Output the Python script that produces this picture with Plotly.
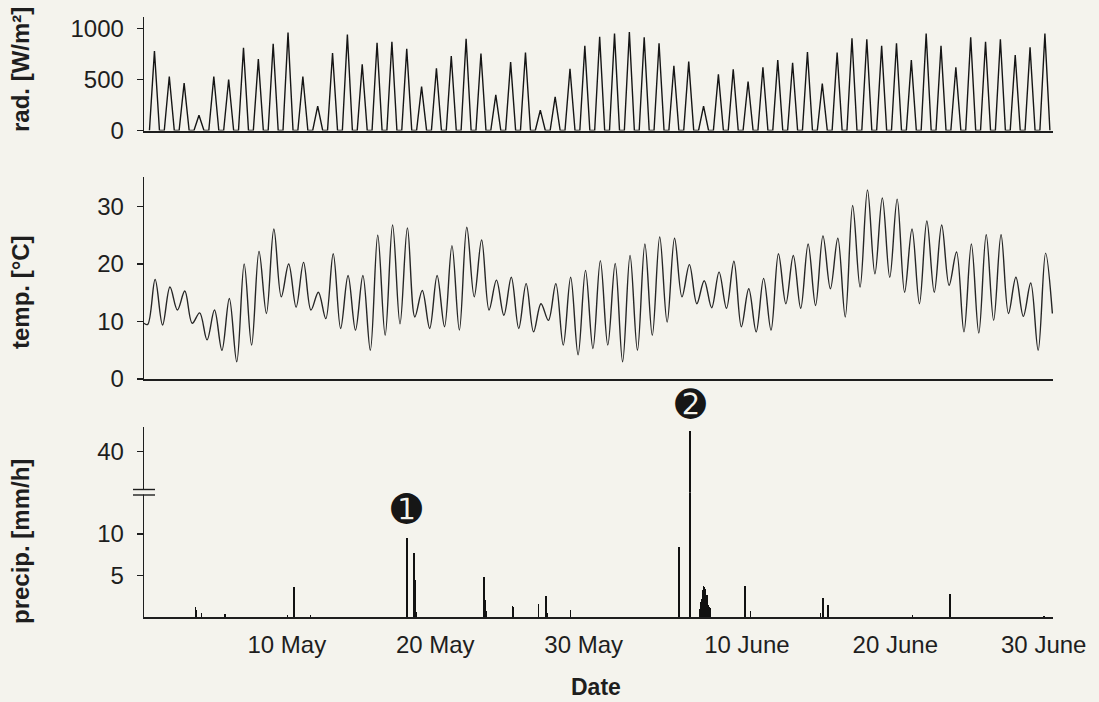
import pandas as pd
import plotly.graph_objects as go

W, H = 1099, 702
BG = "#f4f3ed"
INK = "#1e1e1e"
FONT = "Liberation Sans, Arial, sans-serif"

# ---------------- data ----------------
FIRST_DAY = "2013-05-01"
N_DAYS = 61

# daily peak global radiation [W/m2], 1 May ... 30 June
RAD_PEAK = [780, 530, 465, 150, 530, 500, 810, 700, 850, 960,
            530, 240, 760, 940, 650, 860, 870, 800, 430, 610,
            730, 900, 755, 350, 670, 765, 200, 330, 605, 830,
            920, 950, 965, 915, 855, 635, 675, 240, 550, 600,
            480, 620, 690, 665, 770, 460, 765, 905, 895, 830,
            855, 690, 950, 830, 620, 915, 870, 895, 740, 815, 950]
RAD_RISE_H, RAD_PEAK_H, RAD_SET_H = 5.8, 13.9, 22.0   # hours of day

# daily temperature minimum (night) and maximum (afternoon) [deg C]
TEMP_MIN = [9.5, 9.4, 12.0, 9.7, 6.8, 5.0, 3.0, 5.9, 11.4, 14.3,
            12.5, 12.0, 10.5, 8.8, 8.5, 5.0, 7.6, 9.6, 10.8, 8.8,
            9.1, 8.5, 14.3, 12.0, 11.1, 8.8, 8.2, 10.2, 5.9, 4.2,
            5.3, 5.9, 3.0, 5.0, 7.6, 9.9, 14.3, 13.1, 12.4, 12.3,
            9.1, 8.2, 8.5, 13.1, 12.3, 12.8, 15.7, 10.8, 16.0, 18.3,
            17.7, 15.1, 13.1, 15.1, 16.3, 8.2, 8.0, 10.2, 11.4, 10.9, 5.0]
TEMP_MAX = [17.3, 16.0, 15.3, 11.5, 12.0, 14.0, 20.0, 22.2, 26.1, 20.0,
            20.3, 15.1, 21.8, 18.0, 18.0, 25.0, 26.8, 26.3, 15.4, 18.0,
            23.2, 26.4, 24.2, 17.2, 17.7, 16.6, 13.1, 16.6, 17.7, 18.9,
            20.6, 20.1, 21.5, 23.5, 24.7, 24.5, 19.9, 17.1, 18.6, 20.5,
            15.7, 17.5, 21.8, 21.5, 23.5, 24.9, 24.5, 30.2, 32.9, 31.5,
            31.3, 26.1, 27.5, 26.8, 22.1, 23.5, 25.1, 25.1, 17.7, 16.7, 21.9]
TEMP_MIN_H, TEMP_MAX_H = 3.0, 15.0
TEMP_START = ("2013-04-30 21:00", 9.7)
TEMP_END = ("2013-07-01 02:00", 11.4)

# hourly precipitation [mm/h]
PRECIP_TIME = [
    "2013-05-04 08:00", "2013-05-04 09:00", "2013-05-04 18:00", "2013-05-06 08:00",
    "2013-05-10 13:00", "2013-05-11 00:00", "2013-05-12 02:00",
    "2013-05-18 14:00",
    "2013-05-19 02:00", "2013-05-19 03:00", "2013-05-19 04:00", "2013-05-19 05:00",
    "2013-05-23 19:00", "2013-05-23 20:00", "2013-05-23 21:00", "2013-05-23 23:00",
    "2013-05-25 17:00", "2013-05-25 18:00", "2013-05-27 11:00",
    "2013-05-27 23:00", "2013-05-28 00:00", "2013-05-28 01:00", "2013-05-29 15:00",
    "2013-06-05 22:00",
    "2013-06-06 15:00", "2013-06-06 16:00", "2013-06-06 17:00",
    "2013-06-07 08:00", "2013-06-07 09:00", "2013-06-07 10:00", "2013-06-07 11:00",
    "2013-06-07 12:00", "2013-06-07 13:00", "2013-06-07 14:00", "2013-06-07 15:00",
    "2013-06-07 16:00", "2013-06-07 17:00", "2013-06-07 18:00", "2013-06-07 19:00",
    "2013-06-07 20:00", "2013-06-07 21:00", "2013-06-07 22:00", "2013-06-07 23:00",
    "2013-06-08 00:00",
    "2013-06-10 09:00", "2013-06-10 18:00",
    "2013-06-15 11:00", "2013-06-15 15:00", "2013-06-15 23:00",
    "2013-06-21 16:00", "2013-06-24 04:00", "2013-06-30 12:00"]
PRECIP_VAL = [
    1.2, 0.8, 0.5, 0.4,
    0.3, 3.6, 0.2,
    9.5,
    7.7, 4.4, 1.5, 0.6,
    4.8, 2.0, 1.6, 0.7,
    1.3, 1.2, 1.6,
    2.5, 1.0, 0.5, 0.8,
    8.4,
    9.8, 42.5, 7.8,
    1.0, 1.7, 1.8, 2.2,
    2.6, 3.2, 3.7, 3.6,
    3.4, 3.1, 2.7, 2.6,
    2.5, 1.4, 1.3, 1.2,
    1.1,
    3.7, 0.7,
    0.5, 2.3, 1.4,
    0.2, 2.8, 0.15]
EVENT_TIME = ["2013-05-18 14:00", "2013-06-06 16:00"]   # marked events
EVENT_LABEL = ["\u278A", "\u278B"]
EVENT_LABEL_PX = [509, 405]   # vertical pixel position of the markers

TICK_DATES = ["2013-05-10", "2013-05-20", "2013-05-30",
              "2013-06-10", "2013-06-20", "2013-06-30"]
TICK_TEXT = ["10 May", "20 May", "30 May", "10 June", "20 June", "30 June"]

# ---------------- build series ----------------
days = pd.date_range(FIRST_DAY, periods=N_DAYS, freq="D")
hr = pd.Timedelta(hours=1)

rad_x, rad_y = [], []
for d, p in zip(days, RAD_PEAK):
    rad_x += [d + RAD_RISE_H * hr, d + RAD_PEAK_H * hr, d + RAD_SET_H * hr]
    rad_y += [0, p, 0]

temp_x = [pd.Timestamp(TEMP_START[0])]
temp_y = [TEMP_START[1]]
for d, lo, hi in zip(days, TEMP_MIN, TEMP_MAX):
    temp_x += [d + TEMP_MIN_H * hr, d + TEMP_MAX_H * hr]
    temp_y += [lo, hi]
temp_x.append(pd.Timestamp(TEMP_END[0]))
temp_y.append(TEMP_END[1])

ptime = pd.to_datetime(PRECIP_TIME)
tickvals = [pd.Timestamp(t) + 12 * hr for t in TICK_DATES]

# ---------------- layout helpers ----------------
def px_x(px):
    return px / W

def px_y(px):
    return 1 - px / H

XDOM = [px_x(144), px_x(1053)]
XRANGE = ["2013-04-30 21:00", "2013-07-01 03:00"]

fig = go.Figure()
fig.add_trace(go.Scatter(x=rad_x, y=rad_y, mode="lines",
                         line=dict(color="#151515", width=1.4),
                         xaxis="x", yaxis="y", hoverinfo="skip"))
fig.add_trace(go.Scatter(x=temp_x, y=temp_y, mode="lines",
                         line=dict(color="#262626", width=1.4, shape="spline", smoothing=1.0),
                         xaxis="x2", yaxis="y2", hoverinfo="skip"))
bar_w = 2.6 * 3600 * 1000
fig.add_trace(go.Bar(x=ptime, y=PRECIP_VAL, width=bar_w,
                     marker=dict(color="#111111", line=dict(width=0)),
                     xaxis="x3", yaxis="y3", hoverinfo="skip"))
fig.add_trace(go.Bar(x=ptime, y=PRECIP_VAL, width=bar_w,
                     marker=dict(color="#111111", line=dict(width=0)),
                     xaxis="x4", yaxis="y4", hoverinfo="skip"))

tickfont = dict(family=FONT, size=24, color=INK)
common_x = dict(domain=XDOM, range=XRANGE, type="date", showgrid=False, zeroline=False,
                ticks="", showticklabels=False, showline=True, linecolor=INK,
                linewidth=2, fixedrange=True, automargin=False)
common_y = dict(showgrid=False, zeroline=False, showline=True, linecolor=INK, linewidth=1.3,
                ticks="outside", ticklen=6, tickwidth=1.2, tickcolor=INK,
                tickfont=tickfont, automargin=False, ticklabelstandoff=8,
                fixedrange=True)

fig.update_layout(
    width=W, height=H,
    margin=dict(l=0, r=0, t=0, b=0),
    paper_bgcolor=BG, plot_bgcolor=BG,
    showlegend=False, barmode="overlay", bargap=0,
    font=dict(family=FONT, color=INK),
    xaxis=dict(anchor="y", **common_x),
    yaxis=dict(anchor="x", domain=[px_y(130.5), px_y(17.3)], range=[0, 1110],
               tickvals=[0, 500, 1000], **common_y),
    xaxis2=dict(anchor="y2", **common_x),
    yaxis2=dict(anchor="x2", domain=[px_y(379), px_y(176.7)], range=[0, 35.2],
                tickvals=[0, 10, 20, 30], **common_y),
    xaxis3=dict(anchor="y3", **{**common_x, "showticklabels": True},
                tickvals=tickvals, ticktext=TICK_TEXT, tickfont=tickfont,
                ticklabelstandoff=5),
    yaxis3=dict(anchor="x3", domain=[px_y(617), px_y(492.5)], range=[0, 15],
                tickvals=[5, 10], **common_y),
    xaxis4=dict(anchor="y4", **{**common_x, "showline": False}, matches="x3"),
    yaxis4=dict(anchor="x4", domain=[px_y(492.5), px_y(427)], range=[35.1, 43.0],
                tickvals=[40], **common_y),
)

# axis break symbol on the precipitation axis
fig.add_shape(type="rect", xref="paper", yref="paper",
              x0=px_x(139), x1=px_x(149), y0=px_y(494.5), y1=px_y(490),
              fillcolor=BG, line=dict(width=0), layer="above")
for yy in (489.5, 495.0):
    fig.add_shape(type="line", xref="paper", yref="paper",
                  x0=px_x(133), x1=px_x(155), y0=px_y(yy), y1=px_y(yy),
                  line=dict(color=INK, width=1.4), layer="above")

# event markers (filled circled digits)
for t, lab, ypx in zip(EVENT_TIME, EVENT_LABEL, EVENT_LABEL_PX):
    fig.add_annotation(text=lab, xref="x3", yref="paper", x=pd.Timestamp(t), y=px_y(ypx),
                       showarrow=False, xanchor="center", yanchor="middle",
                       font=dict(family="DejaVu Sans", size=37, color="#161616"))

# axis titles
title_font = dict(family=FONT, size=24, color=INK, weight="bold")
for txt, yc in (("rad. [W/m²]", 70), ("temp. [°C]", 292), ("precip. [mm/h]", 542)):
    fig.add_annotation(text=txt, xref="paper", yref="paper", x=px_x(20), y=px_y(yc),
                       textangle=-90, showarrow=False, font=title_font,
                       xanchor="center", yanchor="middle")
fig.add_annotation(text="Date", xref="paper", yref="paper", x=px_x(596), y=px_y(687),
                   showarrow=False, font=dict(family=FONT, size=23, color=INK, weight="bold"),
                   xanchor="center", yanchor="middle")

fig.write_html("out.html",
               config={"displayModeBar": False, "staticPlot": True},
               post_script="document.body.style.margin='0px';"
                           "document.body.style.overflow='hidden';")
